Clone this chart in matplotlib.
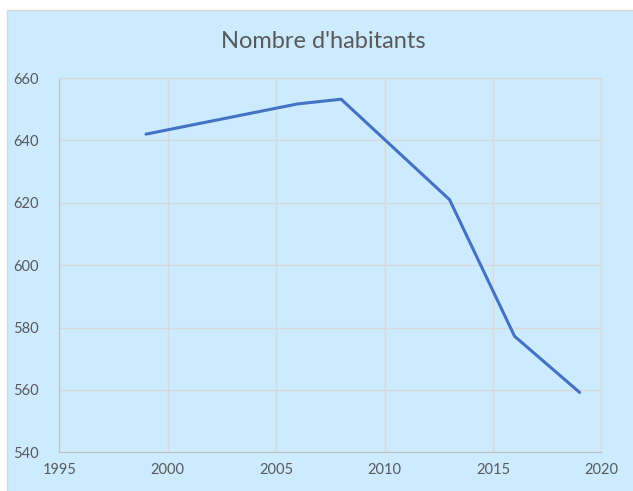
import matplotlib
matplotlib.use("Agg")
import matplotlib.pyplot as plt
from matplotlib.patches import Rectangle

plt.rcParams['font.family'] = ['Lato', 'DejaVu Sans']

# data
years = [1999, 2006, 2008, 2013, 2016, 2019]
habitants = [642, 651.7, 653.2, 621, 577.2, 559.2]
xticks = [1995, 2000, 2005, 2010, 2015, 2020]
yticks = [540, 560, 580, 600, 620, 640, 660]

bg = '#CCEBFF'
grid_col = '#D9D9D9'
text_col = '#595959'

fig = plt.figure(figsize=(6.33, 4.91), dpi=100)
fig.patch.set_facecolor('white')
panel = Rectangle((7 / 633, -0.01), 1.0, 1 - 10 / 491 + 0.01,
                  transform=fig.transFigure, facecolor=bg,
                  edgecolor=grid_col, linewidth=1.0, zorder=-10)
fig.patches.append(panel)

ax = fig.add_axes([59.3 / 633, 1 - 452.3 / 491, (601.3 - 59.3) / 633, (452.3 - 78) / 491])
ax.set_facecolor(bg)
ax.plot(years, habitants, color='#4472C4', linewidth=2.2, solid_capstyle='round', zorder=3)

ax.set_xlim(1995, 2020)
ax.set_ylim(540, 660)
ax.set_xticks(xticks)
ax.set_yticks(yticks)
ax.grid(True, color=grid_col, linewidth=1.0)
ax.set_axisbelow(True)
for s in ['top', 'right']:
    ax.spines[s].set_color(grid_col)
for s in ['left', 'bottom']:
    ax.spines[s].set_color('#BFBFBF')
ax.tick_params(axis='both', length=0, colors=text_col, labelsize=10.5)
ax.tick_params(axis='x', pad=8)
ax.tick_params(axis='y', pad=15)

fig.text(0.51, 1 - 42 / 491, "Nombre d'habitants", ha='center', va='center',
         fontsize=17, color=text_col)

fig.savefig('out.png', dpi=100, facecolor=fig.get_facecolor())
